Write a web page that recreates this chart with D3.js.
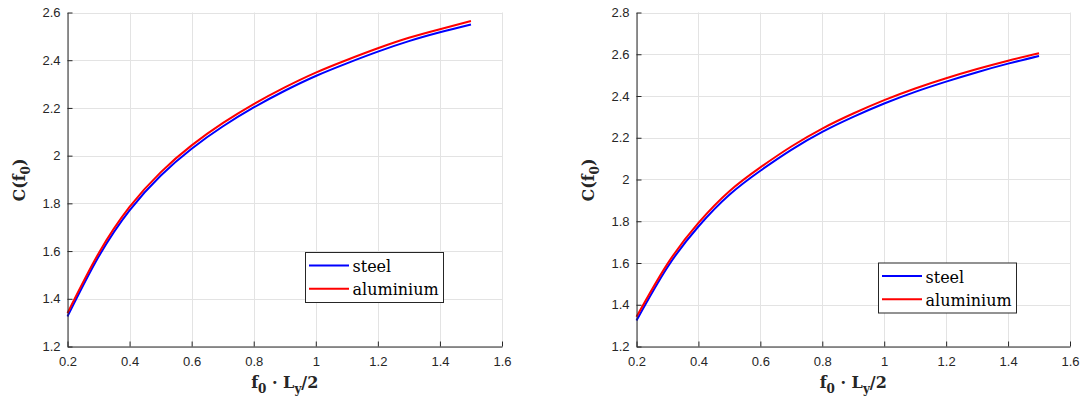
<!DOCTYPE html>
<head>
<meta charset="utf-8">
<title></title>
<style>
body { margin: 0; background: #fff; }
.tick text { font: 13px "Liberation Sans", Arial, sans-serif; fill: #262626; }
.domain { stroke: #262626; }
.tick line { stroke: #262626; }
.grid line { stroke: #e3e3e3; stroke-width: 1px; }
.curve { fill: none; stroke-width: 2px; }
.axlabel { font: bold 16px "DejaVu Serif", serif; fill: #262626; }
.legend text { font: 16px "DejaVu Serif", serif; fill: #000; }
</style>
</head>
<body>
<script src="https://d3js.org/d3.v7.min.js"></script>
<script>

// x positions (f0 * Ly / 2)
var fValues = [0.2, 0.3, 0.4, 0.5, 0.6, 0.7, 0.8, 0.9, 1.0, 1.1, 1.2, 1.3, 1.4, 1.5];

// left panel
var steelLeft = [1.326, 1.576, 1.771, 1.916, 2.029, 2.122, 2.202, 2.272, 2.334, 2.387, 2.436, 2.480, 2.517, 2.550];
var aluLeft   = [1.340, 1.590, 1.785, 1.930, 2.043, 2.136, 2.216, 2.286, 2.348, 2.401, 2.450, 2.494, 2.530, 2.564];

// right panel
var steelRight = [1.325, 1.580, 1.775, 1.927, 2.042, 2.142, 2.228, 2.300, 2.364, 2.420, 2.469, 2.514, 2.555, 2.592];
var aluRight   = [1.342, 1.596, 1.792, 1.944, 2.058, 2.158, 2.244, 2.316, 2.380, 2.436, 2.485, 2.529, 2.569, 2.605];

var seriesNames = ["steel", "aluminium"];
var seriesColors = ["#0000ff", "#ff0000"];

var xTicks = [0.2, 0.4, 0.6, 0.8, 1, 1.2, 1.4, 1.6];
var yTicksLeft = [1.2, 1.4, 1.6, 1.8, 2, 2.2, 2.4, 2.6];
var yTicksRight = [1.2, 1.4, 1.6, 1.8, 2, 2.2, 2.4, 2.6, 2.8];

var svg = d3.select("body").append("svg")
    .attr("width", 1081)
    .attr("height", 402);

function drawPanel(opt) {
  var x = d3.scaleLinear().domain([0.2, 1.6]).range([opt.left, opt.right]);
  var y = d3.scaleLinear().domain(opt.yDomain).range([346.5, 12.5]);

  var g = svg.append("g");

  // grid
  var grid = g.append("g").attr("class", "grid");
  grid.selectAll(".vx").data(xTicks).enter().append("line")
      .attr("x1", function(d) { return Math.round(x(d)) + 0.5; })
      .attr("x2", function(d) { return Math.round(x(d)) + 0.5; })
      .attr("y1", y.range()[1]).attr("y2", y.range()[0]);
  grid.selectAll(".hy").data(opt.yTicks).enter().append("line")
      .attr("y1", function(d) { return Math.round(y(d)) + 0.5; })
      .attr("y2", function(d) { return Math.round(y(d)) + 0.5; })
      .attr("x1", x.range()[0]).attr("x2", x.range()[1]);

  // curves
  var line = d3.line()
      .x(function(d) { return x(d[0]); })
      .y(function(d) { return y(d[1]); })
      .curve(d3.curveNatural);

  opt.series.forEach(function(vals, i) {
    g.append("path")
        .attr("class", "curve")
        .attr("d", line(fValues.map(function(f, j) { return [f, vals[j]]; })))
        .style("stroke", seriesColors[i]);
  });

  // axes
  g.append("g")
      .attr("transform", "translate(0," + y.range()[0] + ")")
      .call(d3.axisBottom(x).tickValues(xTicks).tickSizeInner(-5).tickSizeOuter(0)
        .tickPadding(10).tickFormat(d3.format("")));
  g.append("g")
      .attr("transform", "translate(" + x.range()[0] + ",0)")
      .call(d3.axisLeft(y).tickValues(opt.yTicks).tickSizeInner(-5).tickSizeOuter(0)
        .tickPadding(7).tickFormat(d3.format("")));

  // x label
  var xl = g.append("text")
      .attr("class", "axlabel")
      .attr("text-anchor", "middle")
      .attr("x", (opt.left + opt.right) / 2)
      .attr("y", 388);
  xl.append("tspan").text("f");
  xl.append("tspan").attr("dy", 5).style("font-size", "12px").text("0");
  xl.append("tspan").attr("dy", -5).text(" \u00b7 L");
  xl.append("tspan").attr("dy", 5).style("font-size", "12px").text("y");
  xl.append("tspan").attr("dy", -5).text("/2");

  // y label
  var yl = g.append("text")
      .attr("class", "axlabel")
      .attr("text-anchor", "middle")
      .attr("transform", "translate(" + (opt.left - 43) + ",180) rotate(-90)");
  yl.append("tspan").text("C(f");
  yl.append("tspan").attr("dy", 5).style("font-size", "12px").text("0");
  yl.append("tspan").attr("dy", -5).text(")");

  // legend
  var lg = g.append("g").attr("class", "legend")
      .attr("transform", "translate(" + opt.legend[0] + "," + opt.legend[1] + ")");
  lg.append("rect")
      .attr("x", 0.5).attr("y", 0.5)
      .attr("width", 138).attr("height", 50)
      .style("fill", "#fff").style("stroke", "#262626");
  seriesNames.forEach(function(name, i) {
    var ly = 13.5 + i * 23.3;
    lg.append("line")
        .attr("x1", 4).attr("x2", 44)
        .attr("y1", ly).attr("y2", ly)
        .style("stroke", seriesColors[i]).style("stroke-width", 2);
    lg.append("text")
        .attr("x", 47.5).attr("y", ly + 6.5)
        .text(name);
  });
}

drawPanel({
  left: 67.5, right: 502,
  yDomain: [1.2, 2.6], yTicks: yTicksLeft,
  series: [steelLeft, aluLeft],
  legend: [305, 252]
});

drawPanel({
  left: 636.5, right: 1070,
  yDomain: [1.2, 2.8], yTicks: yTicksRight,
  series: [steelRight, aluRight],
  legend: [878, 262.5]
});

</script>
</body>
</html>
